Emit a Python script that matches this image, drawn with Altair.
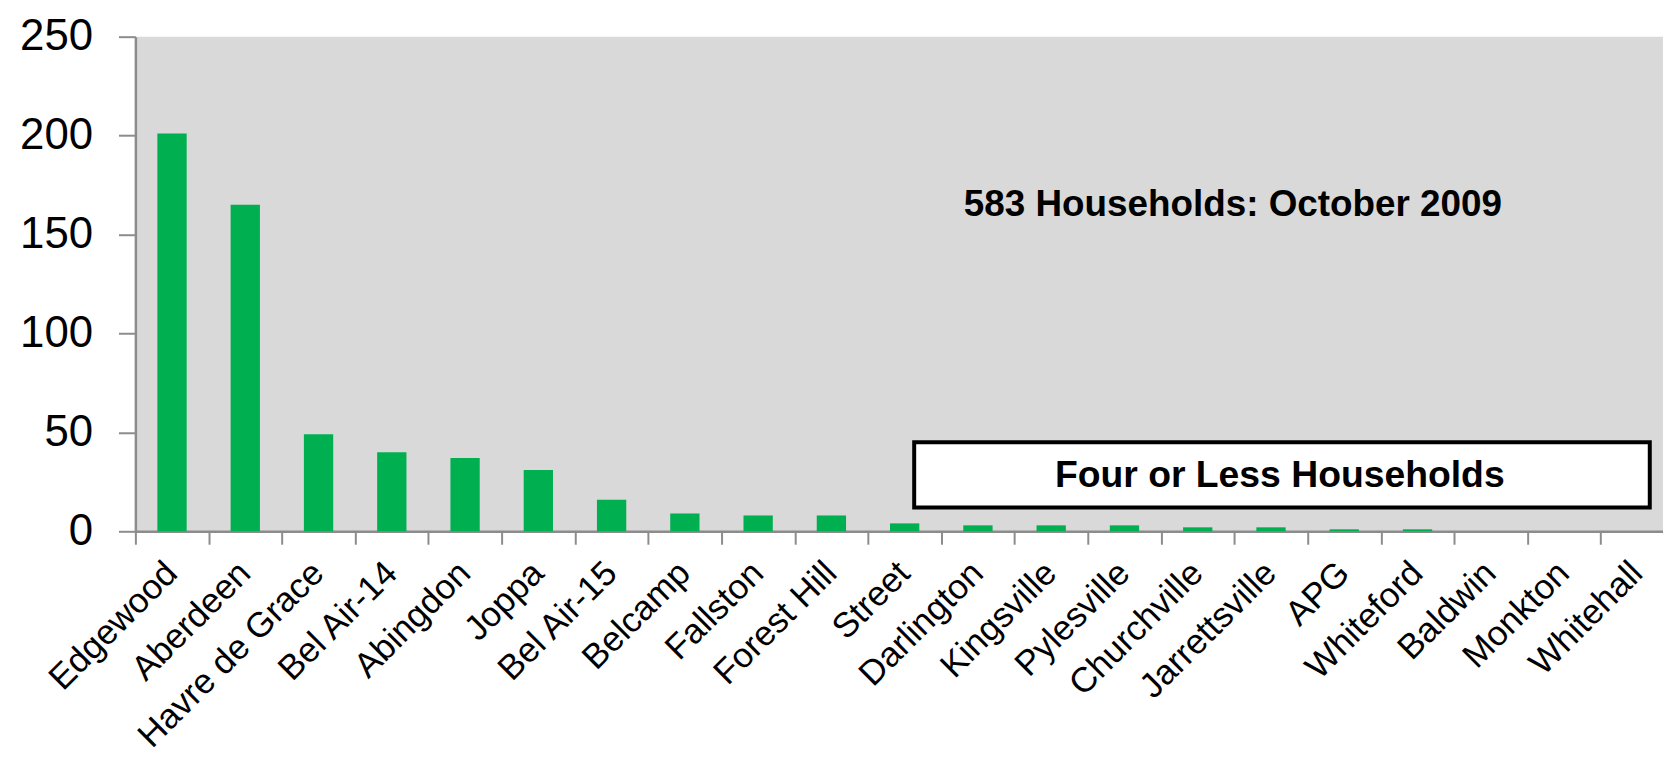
import altair as alt
import pandas as pd

towns = ["Edgewood", "Aberdeen", "Havre de Grace", "Bel Air-14", "Abingdon", "Joppa",
         "Bel Air-15", "Belcamp", "Fallston", "Forest Hill", "Street", "Darlington",
         "Kingsville", "Pylesville", "Churchville", "Jarrettsville", "APG", "Whiteford",
         "Baldwin", "Monkton", "Whitehall"]
households = [201, 165, 49, 40, 37, 31, 16, 9, 8, 8, 4, 3, 3, 3, 2, 2, 1, 1, 0, 0, 0]
y_ticks = [0, 50, 100, 150, 200, 250]

title_text = ["583 Households: October 2009"]
title_at = ["Churchville"]
title_y = [165]

box_text = ["Four or Less Households"]
box_from = ["Street"]
box_to = ["Whitehall"]
box_low = [12]
box_high = [45]
box_text_at = ["Jarrettsville"]
box_text_y = [28]

df = pd.DataFrame({"town": towns, "n": households})
ann_df = pd.DataFrame({"x": title_at, "y": title_y, "t": title_text})
box_df = pd.DataFrame({"x0": box_from, "x1": box_to, "y0": box_low, "y1": box_high})
boxt_df = pd.DataFrame({"x": box_text_at, "y": box_text_y, "t": box_text})

FONT = "Liberation Sans"

xscale = alt.Scale(domain=towns, range=[0, 1546], paddingInner=0, paddingOuter=0)
yscale = alt.Scale(domain=[0, 250], nice=False)

bars = alt.Chart(df).mark_bar(color="#00b050", width=alt.RelativeBandSize(0.4)).encode(
    x=alt.X("town:N", scale=xscale, title=None,
            axis=alt.Axis(labelAngle=-45, labelAlign="right", labelBaseline="top",
                          labelFont=FONT, labelFontSize=35, labelColor="black",
                          labelPadding=11, labelOffset=-13, labelOverlap=False,
                          labelLimit=0,
                          tickBand="extent", tickSize=13, tickColor="#8c8c8c", tickWidth=2,
                          domainColor="#8c8c8c", domainWidth=2.5)),
    y=alt.Y("n:Q", scale=yscale, title=None,
            axis=alt.Axis(values=y_ticks, grid=False, labelFont=FONT, labelFontSize=44,
                          labelColor="black", labelPadding=26, tickSize=17,
                          tickColor="#8c8c8c", tickWidth=2,
                          domainColor="#8c8c8c", domainWidth=2.5)),
)

title_layer = alt.Chart(ann_df).mark_text(
    font=FONT, fontWeight="bold", fontSize=37, color="black",
    align="center", baseline="middle").encode(
    x=alt.X("x:N", bandPosition=0.98),
    y=alt.Y("y:Q"),
    text="t:N",
)

box = alt.Chart(box_df).mark_rect(fill="white", stroke="black", strokeWidth=4).encode(
    x=alt.X("x0:N", bandPosition=0.63),
    x2=alt.X2("x1:N", bandPosition=0.67),
    y=alt.Y("y0:Q"),
    y2=alt.Y2("y1:Q"),
)

box_label = alt.Chart(boxt_df).mark_text(
    font=FONT, fontWeight="bold", fontSize=37.5, color="black",
    align="center", baseline="middle").encode(
    x=alt.X("x:N", bandPosition=0.62),
    y=alt.Y("y:Q"),
    text="t:N",
)

chart = alt.layer(bars, title_layer, box, box_label).properties(
    width=1535, height=497,
    autosize=alt.AutoSizeParams(type="none"),
    padding={"left": 128, "top": 27, "right": 0, "bottom": 229},
    background="white",
).configure_view(fill="#d9d9d9", stroke=None)

chart.save("out.html", embed_options={"renderer": "svg", "actions": False})
